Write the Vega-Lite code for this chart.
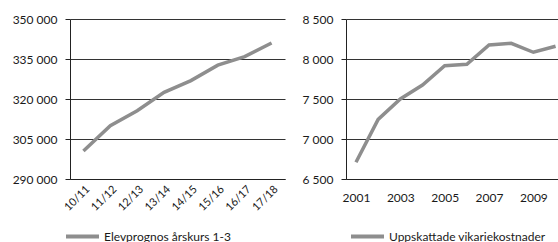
{
  "$schema": "https://vega.github.io/schema/vega-lite/v6.json",
  "padding": {"left": 12, "top": 13, "right": 0, "bottom": 0},
  "spacing": 17,
  "config": {
    "font": "Lato",
    "view": {"stroke": null},
    "axis": {
      "labelFont": "Lato", "labelFontSize": 12, "labelColor": "#1a1a1a",
      "domainColor": "#222", "tickColor": "#222", "gridColor": "#333", "gridWidth": 1,
      "title": null
    },
    "legend": {"labelFont": "Lato", "labelFontSize": 12, "labelColor": "#1a1a1a"}
  },
  "resolve": {"scale": {"color": "independent"}, "legend": {"color": "independent"}},
  "hconcat": [
    {
      "width": 215, "height": 160,
      "data": {"values": [
        {"period": "10/11", "elever": 300500, "serie": "Elevprognos årskurs 1-3"},
        {"period": "11/12", "elever": 310000, "serie": "Elevprognos årskurs 1-3"},
        {"period": "12/13", "elever": 315600, "serie": "Elevprognos årskurs 1-3"},
        {"period": "13/14", "elever": 322500, "serie": "Elevprognos årskurs 1-3"},
        {"period": "14/15", "elever": 326900, "serie": "Elevprognos årskurs 1-3"},
        {"period": "15/16", "elever": 332700, "serie": "Elevprognos årskurs 1-3"},
        {"period": "16/17", "elever": 335900, "serie": "Elevprognos årskurs 1-3"},
        {"period": "17/18", "elever": 341000, "serie": "Elevprognos årskurs 1-3"}
      ]},
      "mark": {"type": "line", "strokeWidth": 3.5},
      "encoding": {
        "x": {"field": "period", "type": "ordinal", "sort": null,
          "scale": {"type": "point", "padding": 0.5},
          "axis": {"labelAngle": -45, "ticks": false, "grid": false, "labelPadding": 4, "labelFontSize": 11}},
        "y": {"field": "elever", "type": "quantitative",
          "scale": {"domain": [290000, 350000], "nice": false, "zero": false},
          "axis": {"values": [290000, 305000, 320000, 335000, 350000], "format": ",d",
            "tickSize": 5, "labelPadding": 8, "grid": true, "domain": true,
            "labelExpr": "replace(datum.label, ',', ' ')"}},
        "color": {"field": "serie", "type": "nominal",
          "scale": {"range": ["#8e8e8e"]},
          "legend": {"title": null, "orient": "none", "legendX": -6, "legendY": 199,
            "symbolType": "stroke", "symbolSize": 1089, "symbolStrokeWidth": 4,
            "labelOffset": 3, "padding": 0}}
      }
    },
    {
      "width": 214, "height": 160,
      "data": {"values": [
        {"year": 2001, "kost": 6710, "serie": "Uppskattade vikariekostnader"},
        {"year": 2002, "kost": 7245, "serie": "Uppskattade vikariekostnader"},
        {"year": 2003, "kost": 7500, "serie": "Uppskattade vikariekostnader"},
        {"year": 2004, "kost": 7675, "serie": "Uppskattade vikariekostnader"},
        {"year": 2005, "kost": 7915, "serie": "Uppskattade vikariekostnader"},
        {"year": 2006, "kost": 7933, "serie": "Uppskattade vikariekostnader"},
        {"year": 2007, "kost": 8175, "serie": "Uppskattade vikariekostnader"},
        {"year": 2008, "kost": 8196, "serie": "Uppskattade vikariekostnader"},
        {"year": 2009, "kost": 8084, "serie": "Uppskattade vikariekostnader"},
        {"year": 2010, "kost": 8160, "serie": "Uppskattade vikariekostnader"}
      ]},
      "mark": {"type": "line", "strokeWidth": 3.5, "clip": true},
      "encoding": {
        "x": {"field": "year", "type": "quantitative",
          "scale": {"domain": [2000.55, 2010.2], "nice": false, "zero": false},
          "axis": {"values": [2001, 2003, 2005, 2007, 2009], "format": "d",
            "ticks": false, "grid": false, "labelPadding": 13, "labelFlush": false}},
        "y": {"field": "kost", "type": "quantitative",
          "scale": {"domain": [6500, 8500], "nice": false, "zero": false},
          "axis": {"values": [6500, 7000, 7500, 8000, 8500], "format": ",d",
            "tickSize": 5, "labelPadding": 8, "grid": true, "domain": true,
            "labelExpr": "replace(datum.label, ',', ' ')"}},
        "color": {"field": "serie", "type": "nominal",
          "scale": {"range": ["#8e8e8e"]},
          "legend": {"title": null, "orient": "none", "legendX": 3, "legendY": 199,
            "symbolType": "stroke", "symbolSize": 1089, "symbolStrokeWidth": 4,
            "labelOffset": 3, "padding": 0}}
      }
    }
  ]
}
